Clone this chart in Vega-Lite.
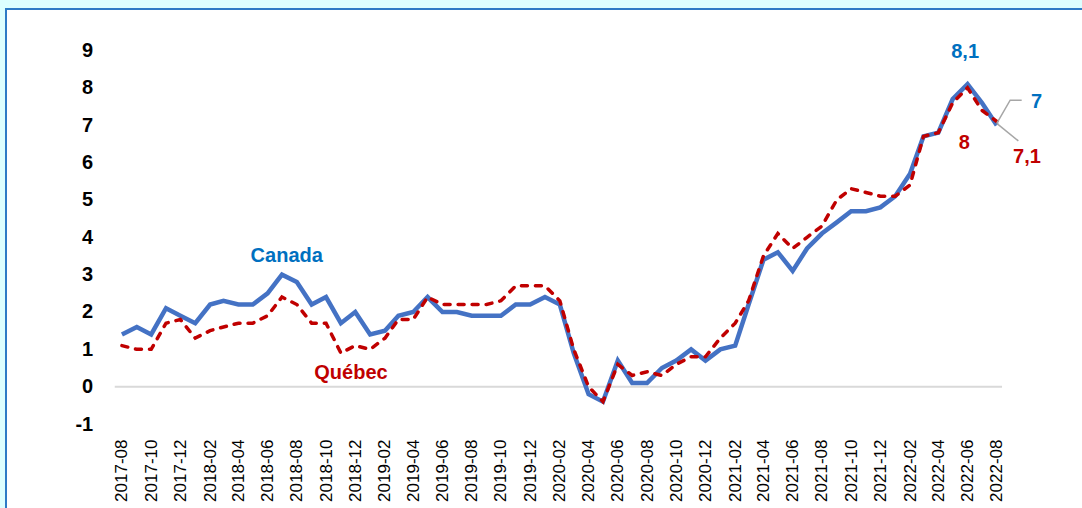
{
  "$schema": "https://vega.github.io/schema/vega-lite/v6.json",
  "width": 1100,
  "height": 520,
  "autosize": {"type": "none"},
  "padding": {"left": 6, "top": 9, "right": 0, "bottom": 0},
  "background": "#DDFFFF",
  "config": {
    "view": {"fill": "#FFFFFF", "stroke": "#2E7BC6", "strokeWidth": 2},
    "font": "Liberation Sans"
  },
  "datasets": {
    "cpi": [
      {"month": "2017-08", "Canada": 1.4, "Quebec": 1.1},
      {"month": "2017-09", "Canada": 1.6, "Quebec": 1.0},
      {"month": "2017-10", "Canada": 1.4, "Quebec": 1.0},
      {"month": "2017-11", "Canada": 2.1, "Quebec": 1.7},
      {"month": "2017-12", "Canada": 1.9, "Quebec": 1.8},
      {"month": "2018-01", "Canada": 1.7, "Quebec": 1.3},
      {"month": "2018-02", "Canada": 2.2, "Quebec": 1.5},
      {"month": "2018-03", "Canada": 2.3, "Quebec": 1.6},
      {"month": "2018-04", "Canada": 2.2, "Quebec": 1.7},
      {"month": "2018-05", "Canada": 2.2, "Quebec": 1.7},
      {"month": "2018-06", "Canada": 2.5, "Quebec": 1.9},
      {"month": "2018-07", "Canada": 3.0, "Quebec": 2.4},
      {"month": "2018-08", "Canada": 2.8, "Quebec": 2.2},
      {"month": "2018-09", "Canada": 2.2, "Quebec": 1.7},
      {"month": "2018-10", "Canada": 2.4, "Quebec": 1.7},
      {"month": "2018-11", "Canada": 1.7, "Quebec": 0.9},
      {"month": "2018-12", "Canada": 2.0, "Quebec": 1.1},
      {"month": "2019-01", "Canada": 1.4, "Quebec": 1.0},
      {"month": "2019-02", "Canada": 1.5, "Quebec": 1.3},
      {"month": "2019-03", "Canada": 1.9, "Quebec": 1.8},
      {"month": "2019-04", "Canada": 2.0, "Quebec": 1.8},
      {"month": "2019-05", "Canada": 2.4, "Quebec": 2.4},
      {"month": "2019-06", "Canada": 2.0, "Quebec": 2.2},
      {"month": "2019-07", "Canada": 2.0, "Quebec": 2.2},
      {"month": "2019-08", "Canada": 1.9, "Quebec": 2.2},
      {"month": "2019-09", "Canada": 1.9, "Quebec": 2.2},
      {"month": "2019-10", "Canada": 1.9, "Quebec": 2.3},
      {"month": "2019-11", "Canada": 2.2, "Quebec": 2.7},
      {"month": "2019-12", "Canada": 2.2, "Quebec": 2.7},
      {"month": "2020-01", "Canada": 2.4, "Quebec": 2.7},
      {"month": "2020-02", "Canada": 2.2, "Quebec": 2.3},
      {"month": "2020-03", "Canada": 0.9, "Quebec": 1.0},
      {"month": "2020-04", "Canada": -0.2, "Quebec": 0.0},
      {"month": "2020-05", "Canada": -0.4, "Quebec": -0.4},
      {"month": "2020-06", "Canada": 0.7, "Quebec": 0.6},
      {"month": "2020-07", "Canada": 0.1, "Quebec": 0.3},
      {"month": "2020-08", "Canada": 0.1, "Quebec": 0.4},
      {"month": "2020-09", "Canada": 0.5, "Quebec": 0.3},
      {"month": "2020-10", "Canada": 0.7, "Quebec": 0.6},
      {"month": "2020-11", "Canada": 1.0, "Quebec": 0.8},
      {"month": "2020-12", "Canada": 0.7, "Quebec": 0.8},
      {"month": "2021-01", "Canada": 1.0, "Quebec": 1.3},
      {"month": "2021-02", "Canada": 1.1, "Quebec": 1.7},
      {"month": "2021-03", "Canada": 2.2, "Quebec": 2.3},
      {"month": "2021-04", "Canada": 3.4, "Quebec": 3.5},
      {"month": "2021-05", "Canada": 3.6, "Quebec": 4.1},
      {"month": "2021-06", "Canada": 3.1, "Quebec": 3.7},
      {"month": "2021-07", "Canada": 3.7, "Quebec": 4.0},
      {"month": "2021-08", "Canada": 4.1, "Quebec": 4.3},
      {"month": "2021-09", "Canada": 4.4, "Quebec": 5.0},
      {"month": "2021-10", "Canada": 4.7, "Quebec": 5.3},
      {"month": "2021-11", "Canada": 4.7, "Quebec": 5.2},
      {"month": "2021-12", "Canada": 4.8, "Quebec": 5.1},
      {"month": "2022-01", "Canada": 5.1, "Quebec": 5.1},
      {"month": "2022-02", "Canada": 5.7, "Quebec": 5.4},
      {"month": "2022-03", "Canada": 6.7, "Quebec": 6.7},
      {"month": "2022-04", "Canada": 6.8, "Quebec": 6.8},
      {"month": "2022-05", "Canada": 7.7, "Quebec": 7.6},
      {"month": "2022-06", "Canada": 8.1, "Quebec": 8.0},
      {"month": "2022-07", "Canada": 7.6, "Quebec": 7.4},
      {"month": "2022-08", "Canada": 7.0, "Quebec": 7.1}
    ],
    "labels": [
      {"month": "2018-07-11", "value": 3.5, "label": "Canada", "series": "Canada"},
      {"month": "2022-05-27", "value": 8.96, "label": "8,1", "series": "Canada"},
      {"month": "2022-10-23", "value": 7.63, "label": "7", "series": "Canada"},
      {"month": "2018-11-22", "value": 0.375, "label": "Québec", "series": "Quebec"},
      {"month": "2022-05-25", "value": 6.53, "label": "8", "series": "Quebec"},
      {"month": "2022-10-03", "value": 6.15, "label": "7,1", "series": "Quebec"}
    ]
  },
  "encoding": {
    "x": {
      "field": "month",
      "type": "temporal",
      "scale": {
        "type": "utc",
        "domain": [
          {"year": 2016, "month": 12, "date": 2, "utc": true},
          {"year": 2023, "month": 3, "date": 17, "utc": true}
        ]
      },
      "axis": {
        "title": null,
        "values": [
          {"year": 2017, "month": 8, "utc": true}, {"year": 2017, "month": 10, "utc": true}, {"year": 2017, "month": 12, "utc": true},
          {"year": 2018, "month": 2, "utc": true}, {"year": 2018, "month": 4, "utc": true}, {"year": 2018, "month": 6, "utc": true},
          {"year": 2018, "month": 8, "utc": true}, {"year": 2018, "month": 10, "utc": true}, {"year": 2018, "month": 12, "utc": true},
          {"year": 2019, "month": 2, "utc": true}, {"year": 2019, "month": 4, "utc": true}, {"year": 2019, "month": 6, "utc": true},
          {"year": 2019, "month": 8, "utc": true}, {"year": 2019, "month": 10, "utc": true}, {"year": 2019, "month": 12, "utc": true},
          {"year": 2020, "month": 2, "utc": true}, {"year": 2020, "month": 4, "utc": true}, {"year": 2020, "month": 6, "utc": true},
          {"year": 2020, "month": 8, "utc": true}, {"year": 2020, "month": 10, "utc": true}, {"year": 2020, "month": 12, "utc": true},
          {"year": 2021, "month": 2, "utc": true}, {"year": 2021, "month": 4, "utc": true}, {"year": 2021, "month": 6, "utc": true},
          {"year": 2021, "month": 8, "utc": true}, {"year": 2021, "month": 10, "utc": true}, {"year": 2021, "month": 12, "utc": true},
          {"year": 2022, "month": 2, "utc": true}, {"year": 2022, "month": 4, "utc": true}, {"year": 2022, "month": 6, "utc": true},
          {"year": 2022, "month": 8, "utc": true}
        ],
        "labelExpr": "utcFormat(datum.value, '%Y-%m')",
        "labelAngle": -90,
        "labelAlign": "right",
        "labelBaseline": "middle",
        "labelPadding": 15,
        "offset": -105,
        "domain": false,
        "ticks": false,
        "tickSize": 0,
        "grid": false,
        "labelFlush": false,
        "labelOverlap": false,
        "labelFont": "Liberation Sans",
        "labelFontSize": 17,
        "labelColor": "#000000"
      }
    },
    "y": {
      "field": "value",
      "type": "quantitative",
      "scale": {"domain": [-3.809, 10.111], "nice": false, "zero": false},
      "axis": {
        "title": null,
        "values": [-1, 0, 1, 2, 3, 4, 5, 6, 7, 8, 9],
        "labelExpr": "'' + datum.value",
        "offset": -108.7,
        "labelPadding": 22,
        "domain": false,
        "ticks": false,
        "tickSize": 0,
        "grid": false,
        "labelFont": "Liberation Sans",
        "labelFontSize": 20,
        "labelFontWeight": "bold",
        "labelColor": "#000000"
      }
    }
  },
  "layer": [
    {
      "data": {"values": [{"month": "2017-07-17", "value": 0}, {"month": "2022-08-12", "value": 0}]},
      "mark": {"type": "line", "color": "#D9D9D9", "strokeWidth": 2}
    },
    {
      "data": {"name": "cpi"},
      "transform": [{"fold": ["Canada"], "as": ["series", "value"]}],
      "mark": {"type": "line", "color": "#4472C4", "strokeWidth": 4.5}
    },
    {
      "data": {"name": "cpi"},
      "transform": [{"fold": ["Quebec"], "as": ["series", "value"]}],
      "mark": {"type": "line", "color": "#C00000", "strokeWidth": 3.5, "strokeDash": [6, 8], "strokeCap": "round"}
    },
    {
      "data": {"values": [
        {"month": "2022-08-01", "value": 7.05, "leader": "A"},
        {"month": "2022-08-29", "value": 7.67, "leader": "A"},
        {"month": "2022-09-22", "value": 7.67, "leader": "A"},
        {"month": "2022-08-01", "value": 7.05, "leader": "B"},
        {"month": "2022-09-15", "value": 6.58, "leader": "B"}
      ]},
      "mark": {"type": "line", "color": "#A6A6A6", "strokeWidth": 1.5},
      "encoding": {"detail": {"field": "leader"}}
    },
    {
      "data": {"name": "labels"},
      "transform": [{"filter": "datum.series === 'Canada'"}],
      "mark": {"type": "text", "font": "Liberation Sans", "fontSize": 20, "fontWeight": "bold", "color": "#0070C0", "align": "center", "baseline": "middle"},
      "encoding": {"text": {"field": "label"}}
    },
    {
      "data": {"name": "labels"},
      "transform": [{"filter": "datum.series === 'Quebec'"}],
      "mark": {"type": "text", "font": "Liberation Sans", "fontSize": 20, "fontWeight": "bold", "color": "#C00000", "align": "center", "baseline": "middle"},
      "encoding": {"text": {"field": "label"}}
    }
  ]
}
